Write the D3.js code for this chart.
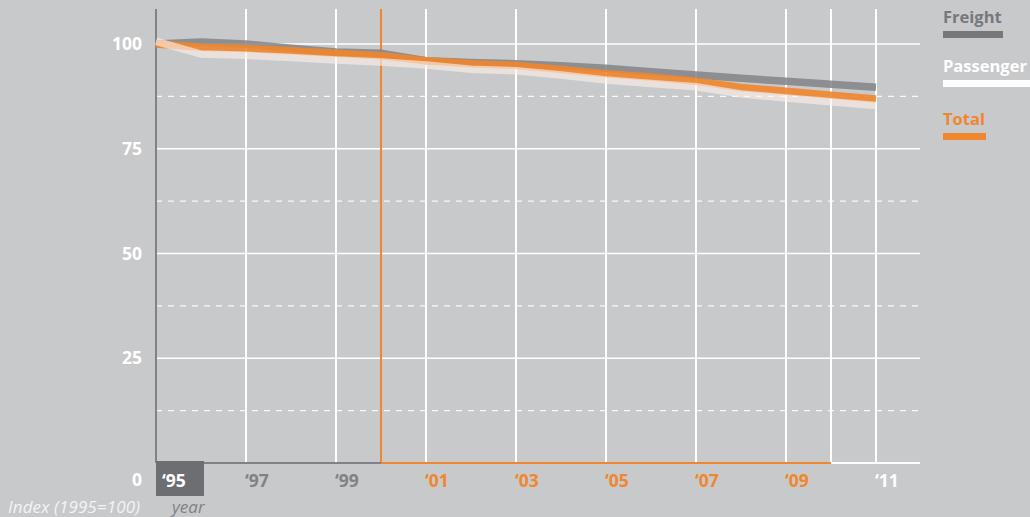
<!DOCTYPE html>
<html><head><meta charset="utf-8">
<script src="https://cdn.jsdelivr.net/npm/d3@7"></script>
<style>
html,body{margin:0;padding:0;background:#c8c9cb;}
svg{display:block;font-family:"Open Sans","Noto Sans",sans-serif;}
</style></head>
<body>
<svg id="c" width="1030" height="517"></svg>
<script>
const years = [1995,1996,1997,1998,1999,2000,2001,2002,2003,2004,2005,2006,2007,2008,2009,2010,2011];
const freight   = [100,100.5,100,99,98.1,97.8,96,95.6,95.3,94.8,94.2,93.4,92.6,91.8,91.1,90.4,89.7];
const total     = [100,99.2,98.9,98.4,97.8,97.2,96,95.3,94.9,93.9,92.9,92.1,91.1,89.6,88.7,87.8,86.9];
const passenger = [100.6,97.6,97.3,96.8,96.2,95.7,95,94,93.6,92.6,91.4,90.6,89.8,88.1,87.1,86.2,85.3];
const yTicks = [0,25,50,75,100];
const yDashed = [12.5,37.5,62.5,87.5];
const xTickYears = [1995,1997,1999,2001,2003,2005,2007,2009,2011];
const xTickLabels = ["‘95","‘97","‘99","‘01","‘03","‘05","‘07","‘09","‘11"];
const seriesNames = ["Freight","Passenger","Total"];

const C = {bg:"#c8c9cb", grey:"#808285", dark:"#6d6e71", orange:"#f0862e", white:"#ffffff"};
const svg = d3.select("#c");
const x = d3.scaleLinear().domain([1995,2011]).range([156,876]);
const y = d3.scaleLinear().domain([0,100]).range([463,44]);
const xRight = 920, yTop = 9;

// horizontal grid
svg.append("g").selectAll("line").data(yTicks.filter(d=>d>0)).join("line")
  .attr("x1",x(1995)).attr("x2",xRight).attr("y1",d=>y(d)).attr("y2",d=>y(d))
  .attr("stroke",C.white).attr("stroke-width",1.6);
svg.append("g").selectAll("line").data(yDashed).join("line")
  .attr("x1",x(1995)).attr("x2",xRight).attr("y1",d=>y(d)).attr("y2",d=>y(d))
  .attr("stroke",C.white).attr("stroke-width",1.3).attr("stroke-dasharray","6,6").attr("opacity",0.9);

// vertical grid
const vYears = [1997,1999,2001,2003,2005,2007,2009,2010,2011];
svg.append("g").selectAll("line").data(vYears).join("line")
  .attr("x1",d=>x(d)).attr("x2",d=>x(d)).attr("y1",yTop).attr("y2",y(0))
  .attr("stroke",C.white).attr("stroke-width",2);
svg.append("line").attr("x1",x(2000)).attr("x2",x(2000)).attr("y1",yTop).attr("y2",y(0))
  .attr("stroke",C.orange).attr("stroke-width",2);

// axes base
svg.append("line").attr("x1",x(1995)).attr("x2",x(1995)).attr("y1",yTop).attr("y2",y(0))
  .attr("stroke",C.grey).attr("stroke-width",2);
svg.append("line").attr("x1",x(1995)).attr("x2",x(2000)).attr("y1",y(0)).attr("y2",y(0))
  .attr("stroke",C.grey).attr("stroke-width",2);
svg.append("line").attr("x1",x(2000)).attr("x2",x(2010)).attr("y1",y(0)).attr("y2",y(0))
  .attr("stroke",C.orange).attr("stroke-width",2);
svg.append("line").attr("x1",x(2010)).attr("x2",xRight).attr("y1",y(0)).attr("y2",y(0))
  .attr("stroke",C.white).attr("stroke-width",2);

// lines
const line = d3.line().x((d,i)=>x(years[i])).y(d=>y(d));
svg.append("path").datum(freight).attr("d",line).attr("fill","none")
  .attr("stroke","#838487").attr("stroke-width",7.5).attr("opacity",0.85);
svg.append("path").datum(total).attr("d",line).attr("fill","none")
  .attr("stroke",C.orange).attr("stroke-width",7.5).attr("opacity",0.9);
svg.append("path").datum(passenger).attr("d",line).attr("fill","none")
  .attr("stroke","#fbf1ea").attr("stroke-width",7.5).attr("opacity",0.62);

// y labels
svg.append("g").selectAll("text").data(yTicks).join("text")
  .attr("x",142).attr("y",d=>d===0? 486 : y(d)+6)
  .attr("text-anchor","end").attr("font-size",17.5).attr("font-weight",700)
  .attr("fill",C.white).text(d=>d);

// x labels
svg.append("rect").attr("x",x(1995)).attr("y",461).attr("width",48).attr("height",35).attr("fill",C.dark);
svg.append("g").selectAll("text").data(xTickYears).join("text")
  .attr("x",d=>d===1995? x(d)+6 : x(d)-1).attr("y",487)
  .attr("font-size",17.5).attr("font-weight",700)
  .attr("fill",d=>d===1995?C.white: d<2000? C.grey : d<2010? C.orange : C.white)
  .text((d,i)=>xTickLabels[i]);

svg.append("text").attr("x",8).attr("y",513).attr("font-size",17).attr("font-style","italic")
  .attr("fill","#f4f4f4").attr("textLength",132).text("Index (1995=100)");
svg.append("text").attr("x",172).attr("y",513).attr("font-size",17).attr("font-style","italic")
  .attr("fill",C.grey).text("year");

// legend
const legColors = ["#77787b", C.white, C.orange];
const legY = [23,72,125];
const legW = [60,90,43];
const lg = svg.append("g");
seriesNames.forEach((n,i)=>{
  lg.append("text").attr("x",943).attr("y",legY[i]).attr("font-size",16.5).attr("font-weight",700)
    .attr("fill",legColors[i]).text(n);
  lg.append("rect").attr("x",943).attr("y",legY[i]+8).attr("width",legW[i]).attr("height",7).attr("fill",legColors[i]);
});
</script>
</body></html>
